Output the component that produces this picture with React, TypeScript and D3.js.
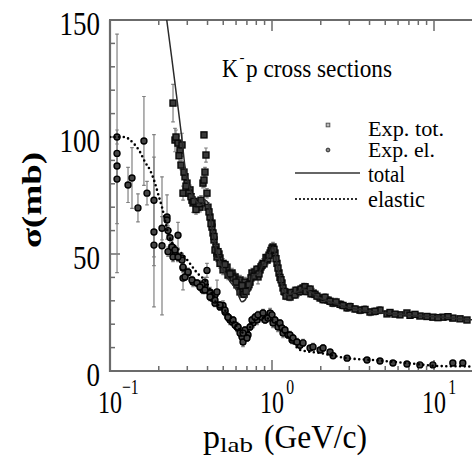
import React from 'react';
import * as d3 from 'd3';

// ---- data (p_lab in GeV/c, sigma in mb) ----
const totalP = [0.2449,0.2519,0.2629,0.2705,0.2783,0.2823,0.2904,0.2988,0.3117,0.3206,0.3254,0.3443,0.3593,0.3697,0.3749,0.3803,0.3857,0.3912,0.3803,0.3968,0.4025,0.4142,0.4261,0.4323,0.4385,0.4511,0.4576,0.4776,0.4986,0.5276,0.5668,0.5916,0.6347,0.6815,0.7112,0.4261,0.4448,0.4576,0.4776,0.4986,0.5352,0.5748,0.6081,0.6347,0.6624,0.7011,0.7317,0.7524,0.7857,0.8199,0.8437,0.8803,0.9323,0.9731,1.0143,1.0435,1.0736,1.1045,1.1527,1.203,1.2557,1.3482,1.4479,1.5548,1.6698,1.793,1.9803,2.2172,2.3829,2.6319,2.9065,3.4945,4.0265,4.6408,5.128,6.1628,6.8072,8.1845,9.8436,11.36,13.07,15.98,
0.4708,0.5128,0.5506,0.5995,0.653,0.6717,0.6912,0.7211,0.7419,0.7743,0.8083,0.8313,0.8554,0.8679,0.8925,0.9183,0.9447,0.9583,0.9859,1.0,1.0288,1.0586,1.0889,1.1202,1.1366,1.1693,1.186,1.22,1.2919,1.3102,1.3868,1.4066,1.4896,1.5101,1.5997,1.6215,1.7179,1.7406,1.8427,1.8957,2.0671,2.124,2.2829,2.4843,2.744,3.03,3.254,3.751,4.323,5.35,5.745,7.11,7.632,9.04,10.58,12.2,14.47,
0.2555,0.2667,0.2744,0.2862,0.2945,0.3074,0.3162,0.330,0.3396,0.3543,0.3645,0.4084,0.4202,0.4385,0.4642];
const totalSigma = [114.5,98.7,97.4,94.4,96.6,76,83,80.3,77.4,73,71.8,71,70,71.8,80.3,81.6,85,92.3,100.9,76,70,65.8,61.5,59,56,53,50.4,48.3,46,44.4,41.9,40.2,38.9,38,36,63.2,51.7,48.7,46,43.2,41,39.7,36.8,33.8,33.8,35.5,38,41.9,42.3,40.2,43.2,46,47.4,50.4,53,50.4,46,41.9,37.6,33.8,32.5,33.3,33.8,35.5,34.6,33.3,31.2,30.3,29,28.5,27,26,25.2,26,24.4,24,24.8,23.5,23,23,22.6,21.8,
50,45.5,41.5,38,36.5,32.8,34,36.9,39.8,40.5,43.5,41.5,44.5,45.2,45.8,48.5,48,49.5,51.5,52.5,52,48,44,40,39,35.5,34,32,31.6,33.5,32.5,34.5,34,35,36,34,35,33,32.8,32,30.5,31.5,29.8,29.5,28,27.5,26.5,26.3,25.5,25,24.3,23.8,24.2,23.3,22.8,23.2,22.3,
100,92,88,85,79,76,74.5,72.5,69,71.5,73,68,63,57.5,51];
const totalErr = [8,5,3,2,5,3,3,2,2,2,4,2,2,2,2,3,2,3,1,2,2,2,2,2,2,2,2,2,2,2,2,2,2,2,2,2,2,2,2,2,2,2,2,2,2,2,2,2,2,3,2,2,2,2,2,2,2,2,2,2,2,2,2,2,2,2,1.5,1.5,1.5,1.5,1.5,1.5,1.5,1.5,1,1,1,1,1,1,1,1,
1.5,1.5,1.5,1.5,1.5,1.5,1.5,1.5,1.5,1.5,1.5,1.5,1.5,1.5,1.5,1.5,1.5,1.5,1.5,1.5,1.5,1.5,1.5,1.5,1.5,1.5,1.5,1.5,1.5,1.5,1.5,1.5,1.5,1.5,1.5,1.5,1.5,1.5,1.5,1.5,1.5,1.5,1.5,1.5,1.5,1.5,1.5,1.5,1.5,1,1,1,1,1,1,1,1,
3,3,2,2,2,2,2,2,2,2,2,2,2,2,2];

const elasticP = [0.1105,0.1105,0.1105,0.1105,0.1292,0.1367,0.1488,0.162,0.1692,0.1868,0.1868,0.1868,0.2094,0.2094,0.2249,0.2347,0.2414,0.2519,0.2629,0.2629,0.2783,0.2823,0.2823,0.2281,0.2449,0.2783,0.3031,0.3254,0.3593,0.3857,0.3857,0.3968,0.4142,0.4448,0.4576,0.4986,0.5506,0.6081,0.653,0.6624,0.7112,0.7637,0.8083,0.8679,0.9323,0.9731,1.0143,1.0889,1.1693,1.2557,1.3292,1.4896,1.7179,1.9803,2.2829,2.3829,2.9065,3.8599,4.6408,5.5796,6.8072,8.1845,9.8436,13.07,15.06,
0.3697,0.3749,0.4142,0.4261,0.4448,0.4776,0.5128,0.5352,0.5666,0.591,0.6167,0.6347,0.6815,0.7317,0.7524,0.7857,0.8199,0.8803,0.9063,0.9447,1.0,1.0435,1.1202,1.1527,1.203,1.2919,1.3482,1.4265,1.5548,1.7912,2.0671,
0.2249,0.2281,0.2414,0.2519,0.2629,0.2823,0.2904,0.3031,0.3206,0.3443,0.3593,0.3857,0.4142,0.4448,0.4776,0.5128,0.5352,0.5748,0.6167,0.6624,0.7011];
const elasticSigma = [100,93,87.6,82,79.5,82.5,69.7,98.3,76,73,59.4,53.8,61,53.5,65.8,57,53,50.4,48.7,58,48.3,44,39.7,51,48.7,47.4,42,38,36.7,36,38,43,33.8,32.5,33.8,28,21.8,18.8,14.5,12.4,15.4,20.5,21.8,23,23,24.8,20.5,18.8,16.2,15.4,13.2,11,9.8,9,8.1,6.5,5.5,4.7,4.3,3.4,3,2.6,2.6,3.4,3.4,
36.7,34.6,33.3,31.2,29,27.4,25.2,23,21,19.7,18.4,16.2,17.5,18.8,21.8,23,24,24.8,21.8,22.6,24,21.8,20.5,18.4,17.5,15.4,14.1,12.4,12,10.3,9.8,
64.5,60,53,51.7,48.7,44.4,40.2,42.3,38.9,37.6,35.9,34.6,31.6,30.3,28.2,26,23,21.8,18.8,16.2,14.1];
const elasticErr = [3,51,6,19,7.5,13,6,19,5,28,32,5,5,29.5,9.5,3,3,2,2,5.5,2,2,5,2,2,2,2,2,2,2,2,3,2,2,5,2,2,2,3,2,2,2,2,2,2,2,2,2,2,1.5,1.5,1.5,1,1,1,1,1,0.8,0.8,0.8,0.6,0.6,0.6,0.6,0.6,
1.5,1.5,1.5,1.5,1.5,1.5,1.5,1.5,1.5,1.5,1.5,1.5,1.5,1.5,1.5,1.5,1.5,1.5,1.5,1.5,1.5,1.5,1.5,1.5,1.5,1.5,1.5,1.5,1.5,1.5,1.5,
2,2,1.5,1.5,1.5,1.5,1.5,1.5,1.5,1.5,1.5,1.5,1.5,1.5,1.5,1.5,1.5,1.5,1.5,1.5,1.5];

const totalCurveP = [0.205,0.224,0.240,0.258,0.2771,0.2904,0.3043,0.3267,0.3508,0.3681,0.3857,0.4044,0.4142,0.4243,0.4448,0.4662,0.5004,0.5506,0.6054,0.650,0.6815,0.7317,0.7637,0.8199,0.8803,0.9323,0.9731,1.0143,1.0435,1.0736,1.1202,1.1693,1.2557,1.3482,1.4479,1.5548,1.6698,1.793,1.9803,2.383,2.9065,3.4945,4.6408,6.1628,8.1845,11.36,15.98,20];
const totalCurveSigma = [170,150,134.3,117.2,100,87.3,80.2,74.5,71.7,71,73,71.8,67.5,61.7,54.7,48.8,43.2,38.2,34.6,29.6,30.3,36,41,41.5,45.5,47.5,50.5,53,50.4,46,40,35.5,32.5,33.3,34,35,34.3,33.2,31.2,29.2,27.3,26.2,25,24.2,23.5,23,22,21.7];

const elasticCurveP = [0.1,0.1153,0.1238,0.1329,0.1427,0.1532,0.1644,0.1765,0.1895,0.2006,0.2094,0.2186,0.2281,0.2414,0.2592,0.2823,0.3031,0.3443,0.3968,0.4448,0.5276,0.6081,0.7011,0.7637,0.88,1.014,1.15,1.35,1.49,1.98,2.9,4.2,6.8,10.9,15,20];
const elasticCurveSigma = [100,100,100,98.7,96.6,93.6,89.3,85.9,80.3,74.4,70,64.5,59,55,52.6,49.6,47,42,37.6,30,25,19,15.4,21.8,22.6,21.8,17.5,12,9,7.7,5.5,4.7,3.4,2.1,2,1.8];

const yTickValues = [0, 50, 100, 150];
const xMajorTicks = [0.1, 1, 10];
const xTickExponents = ['\u22121', '0', '1'];
const legendItems = ['Exp. tot.', 'Exp. el.', 'total', 'elastic'];
const titleText = 'p cross sections';

const FONT = '"Liberation Serif", "Times New Roman", serif';
const AX = '#6b6b6b';

export default function App() {
  const W = 472, H = 457;
  const left = 110, top = 20, bottom = 371;
  const x = d3.scaleLog().domain([0.1, 20]).range([left, left + 162 * Math.log10(200)]);
  const y = d3.scaleLinear().domain([0, 150]).range([bottom, top]);
  const right = x(20);

  const line = d3.line<[number, number]>().x(d => x(d[0])).y(d => y(d[1])).curve(d3.curveMonotoneX);
  const totalCurve = totalCurveP.map((p, i) => [p, totalCurveSigma[i]] as [number, number]);
  const elasticCurve = elasticCurveP.map((p, i) => [p, elasticCurveSigma[i]] as [number, number]);

  const xt = x.ticks();
  const yt = d3.range(0, 151, 10);

  const errBar = (xx: number, s: number, e: number, key: string) => {
    const y1 = y(s + e), y2 = y(s - e);
    return (
      <g key={key}>
        <line x1={xx} x2={xx} y1={y1} y2={y2} />
        <line x1={xx - 1.8} x2={xx + 1.8} y1={y1} y2={y1} />
        <line x1={xx - 1.8} x2={xx + 1.8} y1={y2} y2={y2} />
      </g>
    );
  };

  return (
    <svg width={W} height={H} style={{ display: 'block', position: 'absolute', left: 0, top: 0, background: '#fff' }}>
      <defs>
        <clipPath id="plot"><rect x={left} y={top} width={right - left} height={bottom - top} /></clipPath>
      </defs>
      <rect x={0} y={0} width={W} height={H} fill="#fff" />
      {/* frame */}
      <g stroke={AX} strokeWidth={2.2} fill="none">
        <line x1={left} y1={top} x2={left} y2={bottom + 1} />
        <line x1={left - 1} y1={top} x2={W} y2={top} />
        <line x1={left - 1} y1={bottom} x2={W} y2={bottom} />
      </g>
      {/* ticks */}
      <g stroke={AX} strokeWidth={1.5}>
        {xt.map((t, i) => {
          const major = Math.abs(Math.log10(t) - Math.round(Math.log10(t))) < 1e-6;
          const len = major ? 11 : 5;
          const xx = x(t);
          return (
            <g key={i}>
              <line x1={xx} x2={xx} y1={bottom} y2={bottom - len} />
              <line x1={xx} x2={xx} y1={top} y2={top + len} />
            </g>
          );
        })}
        {yt.map((t, i) => {
          const len = t % 50 === 0 ? 10 : 5;
          return <line key={i} x1={left} x2={left + len} y1={y(t)} y2={y(t)} />;
        })}
      </g>
      {/* y tick labels */}
      {yTickValues.map((v, i) => {
        const s = String(v);
        return (
          <text key={i} x={100} y={y(v) + 15} textAnchor="end" fontFamily={FONT} fontSize={34}
            textLength={13.5 * s.length} lengthAdjust="spacingAndGlyphs" fill="#000">{s}</text>
        );
      })}
      {/* x tick labels: 10^n as one text, condensed */}
      {xMajorTicks.map((v, i) => {
        const xx = x(v);
        return (
          <text key={i} transform={`translate(${xx},413) scale(0.75,1)`} fontFamily={FONT}>
            <tspan x={-16} y={0} fontSize={32}>10</tspan>
            <tspan dx={i === 0 ? 0 : 3} dy={-19} fontSize={21}>{xTickExponents[i]}</tspan>
          </text>
        );
      })}
      {/* x axis label */}
      <text x={203} y={448} fontFamily={FONT} fontSize={33} textLength={17} lengthAdjust="spacingAndGlyphs">p</text>
      <text x={220} y={452} fontFamily={FONT} fontSize={22} textLength={33} lengthAdjust="spacingAndGlyphs">lab</text>
      <text x={264} y={448} fontFamily={FONT} fontSize={33} textLength={103} lengthAdjust="spacingAndGlyphs">(GeV/c)</text>
      {/* y axis label */}
      <text transform="translate(41,200) rotate(-90)" textAnchor="middle" fontFamily={FONT} fontSize={27}
        fontWeight="bold" textLength={96} lengthAdjust="spacingAndGlyphs">σ(mb)</text>
      {/* title */}
      <text x={222} y={77} fontFamily={FONT} fontSize={25} textLength={16} lengthAdjust="spacingAndGlyphs">K</text>
      <text x={239.5} y={62} fontFamily={FONT} fontSize={15}>-</text>
      <text x={246} y={77} fontFamily={FONT} fontSize={25} textLength={146} lengthAdjust="spacingAndGlyphs">{titleText}</text>

      {/* data */}
      <g clipPath="url(#plot)">
        <g stroke="#808080" strokeWidth={1.2}>
          {totalP.map((p, i) => errBar(x(p), totalSigma[i], totalErr[i], 'te' + i))}
          {elasticP.map((p, i) => errBar(x(p), elasticSigma[i], elasticErr[i], 'ee' + i))}
        </g>
        <g>
          {totalP.map((p, i) => (
            <rect key={'tm' + i} x={x(p) - 3} y={y(totalSigma[i]) - 3} width={6} height={6}
              fill="#3a3a3a" stroke="#0a0a0a" strokeWidth={1.4} />
          ))}
          {elasticP.map((p, i) => (
            <circle key={'em' + i} cx={x(p)} cy={y(elasticSigma[i])} r={3}
              fill="#444" stroke="#000" strokeWidth={1.4} />
          ))}
        </g>
        <path d={line(totalCurve) || ''} fill="none" stroke="#2a2a2a" strokeWidth={1.5} />
        <path d={line(elasticCurve) || ''} fill="none" stroke="#000" strokeWidth={2.6}
          strokeDasharray="0 4.6" strokeLinecap="round" />
      </g>

      {/* legend */}
      <rect x={326.2} y={123.2} width={3.6} height={3.6} fill="#bbb" stroke="#555" strokeWidth={1} />
      <circle cx={328} cy={150} r={1.9} fill="#888" stroke="#333" strokeWidth={1} />
      <line x1={295} x2={360} y1={173} y2={173} stroke="#666" strokeWidth={2} />
      <line x1={296} x2={360} y1={199} y2={199} stroke="#000" strokeWidth={2.2} strokeDasharray="0 4" strokeLinecap="round" />
      <text x={368} y={136} fontFamily={FONT} fontSize={20} textLength={76} lengthAdjust="spacingAndGlyphs">{legendItems[0]}</text>
      <text x={368} y={157} fontFamily={FONT} fontSize={20} textLength={67} lengthAdjust="spacingAndGlyphs">{legendItems[1]}</text>
      <text x={368} y={182} fontFamily={FONT} fontSize={24} textLength={37} lengthAdjust="spacingAndGlyphs">{legendItems[2]}</text>
      <text x={368} y={207} fontFamily={FONT} fontSize={24} textLength={57} lengthAdjust="spacingAndGlyphs">{legendItems[3]}</text>
    </svg>
  );
}
